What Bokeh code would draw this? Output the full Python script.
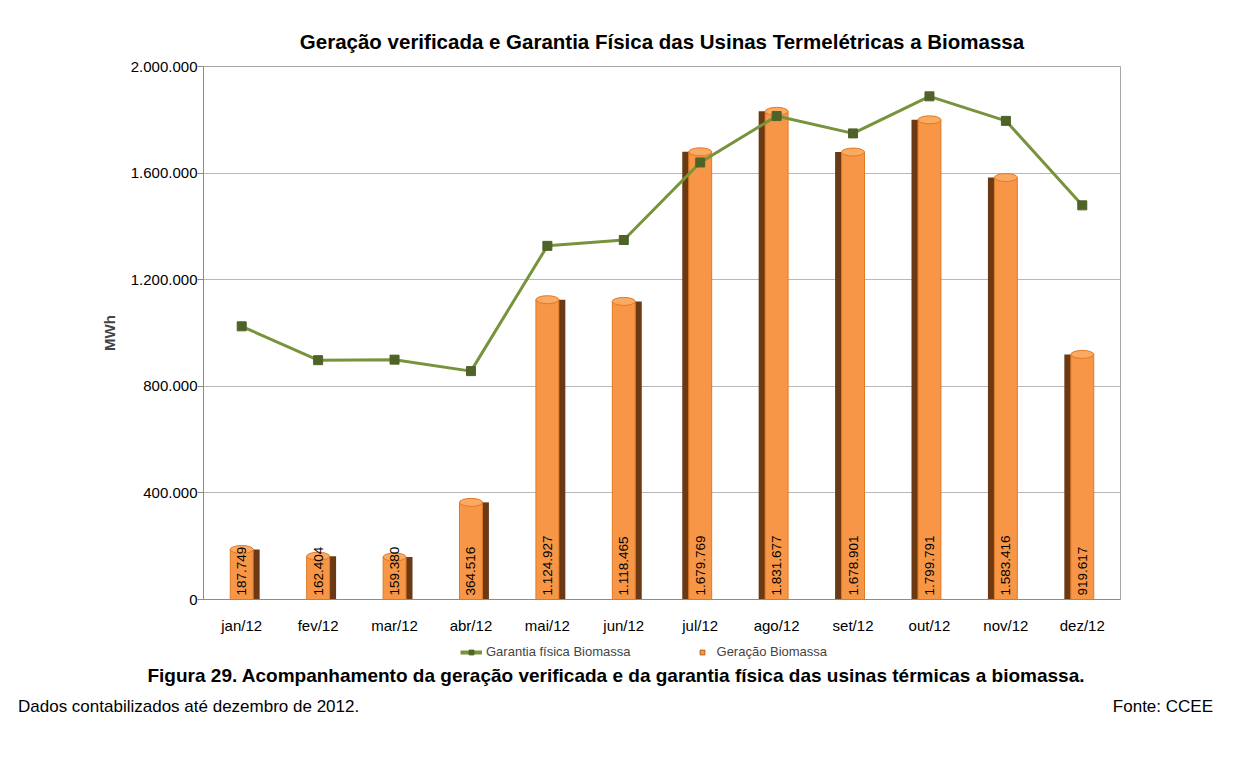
from bokeh.core.properties import value
from bokeh.embed import file_html
from bokeh.layouts import column
from bokeh.models import (ColumnDataSource, CustomJSTickFormatter, Div, FixedTicker,
                          Legend, LegendItem, Range1d)
from bokeh.plotting import figure
from bokeh.resources import INLINE
from bokeh.transform import dodge

meses = ["jan/12", "fev/12", "mar/12", "abr/12", "mai/12", "jun/12",
         "jul/12", "ago/12", "set/12", "out/12", "nov/12", "dez/12"]
geracao = [187749, 162404, 159380, 364516, 1124927, 1118465,
           1679769, 1831677, 1678901, 1799791, 1583416, 919617]
garantia = [1025000, 898000, 900000, 857000, 1327000, 1349000,
            1640000, 1814000, 1749000, 1888000, 1796000, 1479000]
y_ticks = [0, 400000, 800000, 1200000, 1600000, 2000000]

fonte = "Liberation Sans"
laranja = "#F79646"
marrom = "#6B3A14"
verde = "#77933C"
verde_escuro = "#4F6228"

rotulos = [f"{v:,}".replace(",", ".") for v in geracao]
src = ColumnDataSource(dict(mes=meses, ger=geracao, gar=garantia, rot=rotulos))
# metade esquerda mostra a lateral escura a direita, a outra metade a esquerda
src_a = ColumnDataSource(dict(mes=meses[:6], ger=geracao[:6]))
src_b = ColumnDataSource(dict(mes=meses[6:], ger=geracao[6:]))

p = figure(x_range=meses, y_range=Range1d(0, 2000000), frame_width=917, frame_height=533,
           output_backend="svg", toolbar_location=None,
           title="Geração verificada e Garantia Física das Usinas Termelétricas a Biomassa",
           min_border_left=203, min_border_right=98, min_border_top=66, min_border_bottom=40)

p.title.align = "center"
p.title.text_font = fonte
p.title.text_font_size = "20.5px"
p.title.text_font_style = "bold"
p.title.text_color = "black"
p.title.standoff = 27

p.outline_line_color = "#A6A6A6"
p.xgrid.grid_line_color = None
p.ygrid.grid_line_color = "#B8B8B8"
p.ygrid.ticker = FixedTicker(ticks=y_ticks)

p.yaxis.ticker = FixedTicker(ticks=y_ticks)
p.yaxis.formatter = CustomJSTickFormatter(
    code='return tick.toFixed(0).replace(/\\B(?=(\\d{3})+(?!\\d))/g, ".");')
p.yaxis.axis_label = "MWh"
p.yaxis.axis_label_text_font = fonte
p.yaxis.axis_label_text_font_style = "bold"
p.yaxis.axis_label_text_font_size = "15px"
p.yaxis.axis_label_standoff = 10
p.yaxis.major_label_text_font = fonte
p.yaxis.major_label_text_font_size = "15px"
p.yaxis.major_label_standoff = 0
p.yaxis.minor_tick_line_color = None
p.yaxis.major_tick_in = 0
p.yaxis.major_tick_out = 6
p.yaxis.major_tick_line_color = "#8C8C8C"

p.xaxis.major_label_text_font = fonte
p.xaxis.major_label_text_font_size = "15px"
p.xaxis.major_tick_line_color = None
p.xaxis.major_label_standoff = 11

for ax in (p.xaxis, p.yaxis):
    ax.axis_line_color = "#8C8C8C"
    ax.major_label_text_color = "black"

# barras com lateral escura (efeito 3D)
p.vbar(x=dodge("mes", 0.19, range=p.x_range), top="ger", width=0.09, source=src_a,
       fill_color=marrom, line_color=None)
p.vbar(x=dodge("mes", -0.19, range=p.x_range), top="ger", width=0.09, source=src_b,
       fill_color=marrom, line_color=None)
barras = p.vbar(x="mes", top="ger", width=0.3, source=src,
                fill_color=laranja, line_color="#E07A26", line_width=1)
p.ellipse(x="mes", y="ger", width=0.3, height=8, height_units="screen", source=src,
          fill_color="#FBAA62", line_color="#E07A26")

p.text(x="mes", y=0, text="rot", source=src, angle=1.5708,
       text_align="left", text_baseline="middle", y_offset=-4,
       text_font=value(fonte), text_font_size="13.5px", text_color="black")

p.line(x="mes", y="gar", source=src, line_color=verde, line_width=3)
p.scatter(x="mes", y="gar", source=src, marker="square", size=9,
          fill_color=verde_escuro, line_color=verde_escuro)

# legenda numa figura estreita logo abaixo do gráfico (glifos fora da faixa visível)
fora = ColumnDataSource(dict(x=[-5], y=[-5]))
leg = figure(width=1218, height=22, x_range=Range1d(0, 1), y_range=Range1d(0, 1),
             x_axis_type=None, y_axis_type=None, output_backend="svg",
             toolbar_location=None, min_border=0, outline_line_color=None)
leg.grid.visible = False
l_linha = leg.line(x="x", y="y", source=fora, line_color=verde, line_width=4)
l_marc = leg.scatter(x="x", y="y", source=fora, marker="square", size=8,
                     fill_color=verde_escuro, line_color=verde_escuro)
l_barra = leg.scatter(x="x", y="y", source=fora, marker="square", size=8,
                      fill_color=laranja, line_color="#B25E17")
legend = Legend(items=[LegendItem(label="Garantia física Biomassa", renderers=[l_linha, l_marc]),
                       LegendItem(label="Geração Biomassa", renderers=[l_barra])],
                orientation="horizontal", location=(257, 2), border_line_color=None,
                background_fill_alpha=0, label_text_font=fonte, label_text_font_size="13px",
                spacing=60, glyph_width=22, glyph_height=12, label_height=14,
                label_standoff=4, padding=2, margin=0)
leg.add_layout(legend)

rodape = Div(width=1210, text=(
    f'<div style="font-family:{fonte};color:black;width:1208px;margin-top:-4px;">'
    '<div style="text-align:center;font-weight:bold;font-size:19px;padding-left:14px;">'
    'Figura 29. Acompanhamento da geração verificada e da garantia física das usinas térmicas a biomassa.'
    '</div>'
    '<div style="display:flex;justify-content:space-between;font-size:17px;margin-top:6px;'
    'padding-left:13px;">'
    '<span>Dados contabilizados até dezembro de 2012.</span><span>Fonte: CCEE</span></div></div>'))

layout = column(p, leg, rodape, spacing=0)
open("out.html", "w").write(file_html(layout, INLINE))
